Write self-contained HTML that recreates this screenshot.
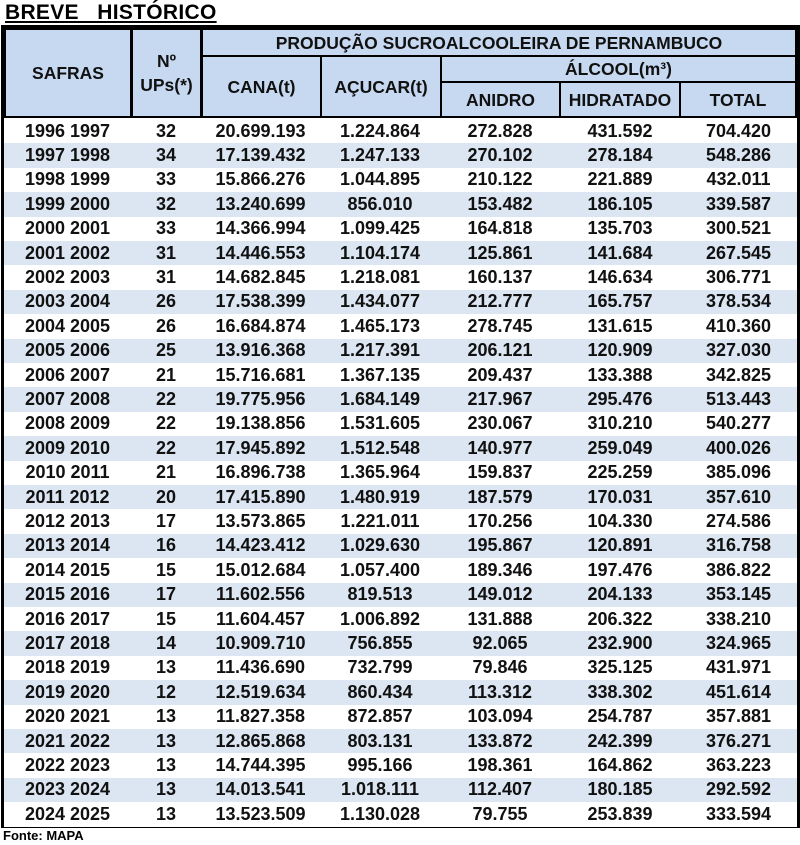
<!DOCTYPE html>
<html><head><meta charset="utf-8">
<style>
body{margin:0;width:800px;height:845px;background:#fff;font-family:"Liberation Sans",Arial,sans-serif;position:relative;overflow:hidden}
.t{position:absolute;left:5px;top:1px;font-size:21px;font-weight:bold;text-decoration:underline;letter-spacing:0.3px;white-space:pre}
.box{position:absolute;left:1px;top:25px;width:793px;height:797px;border:3px solid #000}
.h{position:absolute;background:#c6d9f1;border:2px solid #000;box-sizing:border-box;display:flex;align-items:center;justify-content:center;text-align:center;font-weight:bold;font-size:17.5px;color:#111;line-height:24px}
.r{position:absolute;left:0;width:793px;height:24.4px;display:flex;font-weight:bold;font-size:18px;color:#111;align-items:center}
.r div{text-align:center}
.f{position:absolute;left:3px;top:828px;font-size:13px;font-weight:bold}
</style></head><body>
<div class="t">BREVE   HISTÓRICO</div>
<div class="box" id="box">
<div class="h" style="left:0;top:0;width:128px;height:90px">SAFRAS</div>
<div class="h" style="left:127px;top:0;width:71px;height:90px">Nº<br>UPs(*)</div>
<div class="h" style="left:197px;top:0;width:596px;height:29px">PRODUÇÃO SUCROALCOOLEIRA DE PERNAMBUCO</div>
<div class="h" style="left:197px;top:27px;width:121px;height:63px">CANA(t)</div>
<div class="h" style="left:316px;top:27px;width:122px;height:63px">AÇUCAR(t)</div>
<div class="h" style="left:436px;top:27px;width:357px;height:28px">ÁLCOOL(m³)</div>
<div class="h" style="left:436px;top:53px;width:121px;height:37px">ANIDRO</div>
<div class="h" style="left:555px;top:53px;width:122px;height:37px">HIDRATADO</div>
<div class="h" style="left:675px;top:53px;width:118px;height:37px">TOTAL</div>
</div>
<div class="f">Fonte: MAPA</div>
<script>
const safras=["1996 1997","1997 1998","1998 1999","1999 2000","2000 2001","2001 2002","2002 2003","2003 2004","2004 2005","2005 2006","2006 2007","2007 2008","2008 2009","2009 2010","2010 2011","2011 2012","2012 2013","2013 2014","2014 2015","2015 2016","2016 2017","2017 2018","2018 2019","2019 2020","2020 2021","2021 2022","2022 2023","2023 2024","2024 2025"];
const ups=["32","34","33","32","33","31","31","26","26","25","21","22","22","22","21","20","17","16","15","17","15","14","13","12","13","13","13","13","13"];
const cana=["20.699.193","17.139.432","15.866.276","13.240.699","14.366.994","14.446.553","14.682.845","17.538.399","16.684.874","13.916.368","15.716.681","19.775.956","19.138.856","17.945.892","16.896.738","17.415.890","13.573.865","14.423.412","15.012.684","11.602.556","11.604.457","10.909.710","11.436.690","12.519.634","11.827.358","12.865.868","14.744.395","14.013.541","13.523.509"];
const acucar=["1.224.864","1.247.133","1.044.895","856.010","1.099.425","1.104.174","1.218.081","1.434.077","1.465.173","1.217.391","1.367.135","1.684.149","1.531.605","1.512.548","1.365.964","1.480.919","1.221.011","1.029.630","1.057.400","819.513","1.006.892","756.855","732.799","860.434","872.857","803.131","995.166","1.018.111","1.130.028"];
const anidro=["272.828","270.102","210.122","153.482","164.818","125.861","160.137","212.777","278.745","206.121","209.437","217.967","230.067","140.977","159.837","187.579","170.256","195.867","189.346","149.012","131.888","92.065","79.846","113.312","103.094","133.872","198.361","112.407","79.755"];
const hidratado=["431.592","278.184","221.889","186.105","135.703","141.684","146.634","165.757","131.615","120.909","133.388","295.476","310.210","259.049","225.259","170.031","104.330","120.891","197.476","204.133","206.322","232.900","325.125","338.302","254.787","242.399","164.862","180.185","253.839"];
const total=["704.420","548.286","432.011","339.587","300.521","267.545","306.771","378.534","410.360","327.030","342.825","513.443","540.277","400.026","385.096","357.610","274.586","316.758","386.822","353.145","338.210","324.965","431.971","451.614","357.881","376.271","363.223","292.592","333.594"];
const widths=[127,70,119,120,120,120,117];
const box=document.getElementById('box');
safras.forEach((s,i)=>{
  const r=document.createElement('div');
  r.className='r';
  
  
  r.style.top=(91+i*24.4)+'px';
  r.style.background=i%2?'#dce6f2':'#fff';
  [s,ups[i],cana[i],acucar[i],anidro[i],hidratado[i],total[i]].forEach((v,j)=>{
    const c=document.createElement('div');
    
    
    c.style.width=widths[j]+'px';
    c.textContent=v;
    r.appendChild(c);
  });
  box.appendChild(r);
});
</script>
</body></html>
